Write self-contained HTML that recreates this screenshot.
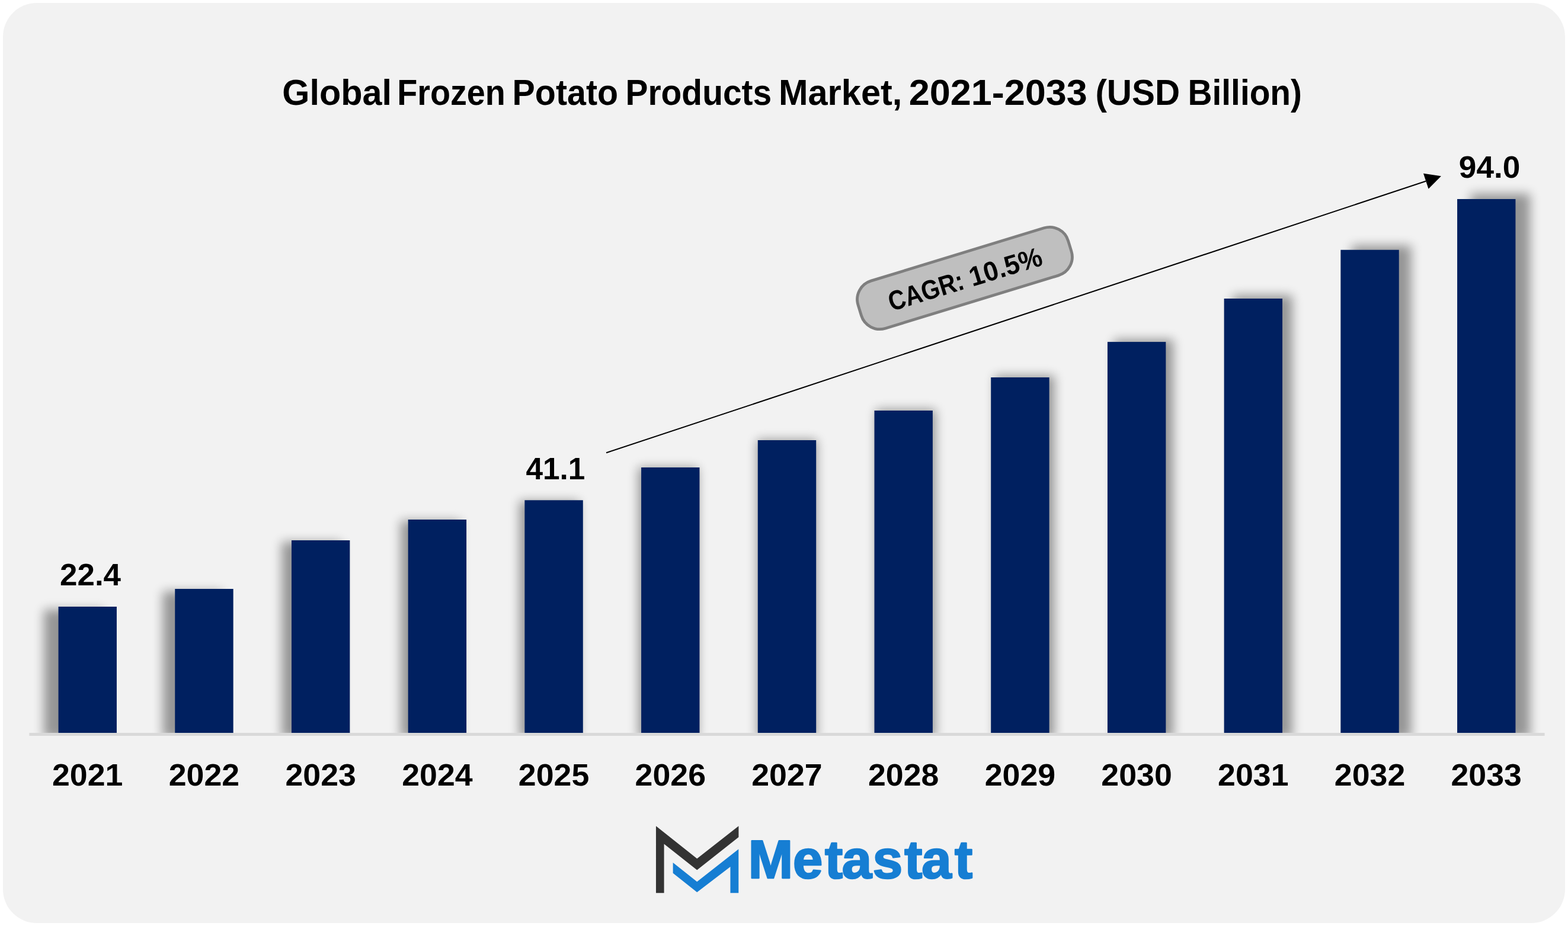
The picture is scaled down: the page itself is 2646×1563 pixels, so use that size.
<!DOCTYPE html>
<html lang="en">
<head>
<meta charset="utf-8">
<title>Global Frozen Potato Products Market, 2021-2033 (USD Billion)</title>
<style>
html,body{margin:0;padding:0;background:#ffffff;}
body{width:2646px;height:1563px;position:relative;font-family:'Liberation Sans', sans-serif;}
figure{margin:0;padding:0;position:absolute;left:0;top:0;width:2646px;height:1563px;}
svg{display:block;position:absolute;left:0;top:0;}
text{font-family:'Liberation Sans', sans-serif;font-weight:bold;fill:#000;}
</style>
</head>
<body>
<figure>
<svg role="img" aria-label="Global Frozen Potato Products Market bar chart" width="2646" height="1563" viewBox="0 0 2646 1563">
<defs>
<filter id="blur" filterUnits="userSpaceOnUse" x="0" y="200" width="2646" height="1200" color-interpolation-filters="sRGB">
<feGaussianBlur stdDeviation="9"/>
</filter>
<clipPath id="plot"><rect x="0" y="0" width="2646" height="1237.0"/></clipPath>
</defs>
<rect x="5" y="5" width="2636" height="1553" rx="57" ry="57" fill="#f2f2f2"/>
<g clip-path="url(#plot)">
<g filter="url(#blur)" opacity="0.38">
<g transform="translate(1328.00 786.50) scale(1.02) translate(-1328.00 -786.50)" fill="#000">
<rect x="98.55" y="1024.00" width="98.40" height="213.00"/>
<rect x="295.26" y="994.00" width="98.40" height="243.00"/>
<rect x="491.97" y="912.00" width="98.40" height="325.00"/>
<rect x="688.68" y="877.00" width="98.40" height="360.00"/>
<rect x="885.38" y="844.30" width="98.40" height="392.70"/>
<rect x="1082.09" y="789.00" width="98.40" height="448.00"/>
<rect x="1278.80" y="743.00" width="98.40" height="494.00"/>
<rect x="1475.51" y="693.00" width="98.40" height="544.00"/>
<rect x="1672.22" y="637.00" width="98.40" height="600.00"/>
<rect x="1868.92" y="577.10" width="98.40" height="659.90"/>
<rect x="2065.63" y="504.00" width="98.40" height="733.00"/>
<rect x="2262.34" y="421.75" width="98.40" height="815.25"/>
<rect x="2459.05" y="336.00" width="98.40" height="901.00"/>
</g>
</g>
</g>
<rect x="49.4" y="1237.0" width="2557.20" height="5" fill="#d9d9d9"/>
<g fill="#002060">
<rect x="98.55" y="1024.00" width="98.40" height="213.00"/>
<rect x="295.26" y="994.00" width="98.40" height="243.00"/>
<rect x="491.97" y="912.00" width="98.40" height="325.00"/>
<rect x="688.68" y="877.00" width="98.40" height="360.00"/>
<rect x="885.38" y="844.30" width="98.40" height="392.70"/>
<rect x="1082.09" y="789.00" width="98.40" height="448.00"/>
<rect x="1278.80" y="743.00" width="98.40" height="494.00"/>
<rect x="1475.51" y="693.00" width="98.40" height="544.00"/>
<rect x="1672.22" y="637.00" width="98.40" height="600.00"/>
<rect x="1868.92" y="577.10" width="98.40" height="659.90"/>
<rect x="2065.63" y="504.00" width="98.40" height="733.00"/>
<rect x="2262.34" y="421.75" width="98.40" height="815.25"/>
<rect x="2459.05" y="336.00" width="98.40" height="901.00"/>
</g>
<text transform="translate(147.75 1325.9) scale(1.0453 1)" text-anchor="middle" font-size="51.4">2021</text>
<text transform="translate(344.46 1325.9) scale(1.0453 1)" text-anchor="middle" font-size="51.4">2022</text>
<text transform="translate(541.17 1325.9) scale(1.0453 1)" text-anchor="middle" font-size="51.4">2023</text>
<text transform="translate(737.88 1325.9) scale(1.0453 1)" text-anchor="middle" font-size="51.4">2024</text>
<text transform="translate(934.58 1325.9) scale(1.0453 1)" text-anchor="middle" font-size="51.4">2025</text>
<text transform="translate(1131.29 1325.9) scale(1.0453 1)" text-anchor="middle" font-size="51.4">2026</text>
<text transform="translate(1328.00 1325.9) scale(1.0453 1)" text-anchor="middle" font-size="51.4">2027</text>
<text transform="translate(1524.71 1325.9) scale(1.0453 1)" text-anchor="middle" font-size="51.4">2028</text>
<text transform="translate(1721.42 1325.9) scale(1.0453 1)" text-anchor="middle" font-size="51.4">2029</text>
<text transform="translate(1918.12 1325.9) scale(1.0453 1)" text-anchor="middle" font-size="51.4">2030</text>
<text transform="translate(2114.83 1325.9) scale(1.0453 1)" text-anchor="middle" font-size="51.4">2031</text>
<text transform="translate(2311.54 1325.9) scale(1.0453 1)" text-anchor="middle" font-size="51.4">2032</text>
<text transform="translate(2508.25 1325.9) scale(1.0453 1)" text-anchor="middle" font-size="51.4">2033</text>
<text transform="translate(101.05 987.9) scale(1.0294 1)" font-size="51.4">22.4</text>
<text transform="translate(887.43 808.8) scale(1.0000 1)" font-size="51.4">41.1</text>
<text transform="translate(2461.84 300.0) scale(1.0341 1)" font-size="51.4">94.0</text>
<g font-size="61.5">
<text transform="translate(476.32 177.0) scale(0.9659 1)">Global</text>
<text transform="translate(670.18 177.0) scale(0.9064 1)">Frozen</text>
<text transform="translate(864.57 177.0) scale(0.9334 1)">Potato</text>
<text transform="translate(1055.40 177.0) scale(0.9263 1)">Products</text>
<text transform="translate(1313.93 177.0) scale(0.9679 1)">Market,</text>
<text transform="translate(1533.80 177.0) scale(1.0239 1)">2021-2033</text>
<text transform="translate(1848.38 177.0) scale(0.9493 1)">(USD</text>
<text transform="translate(2004.51 177.0) scale(0.9240 1)">Billion)</text>
</g>
<line x1="1023.1" y1="764.2" x2="2406.27" y2="305.79" stroke="#000" stroke-width="2.05"/>
<polygon points="2431.90,297.30 2410.57,318.75 2401.98,292.84" fill="#000"/>
<g transform="translate(1628 469.5) rotate(-17.0)">
<rect x="-185.35" y="-41.85" width="370.7" height="83.7" rx="32.6" ry="32.6" fill="#bfbfbf" stroke="#7f7f7f" stroke-width="4.8"/>
<text transform="translate(-134.5 17.4) scale(0.869 1)" font-size="46">CAGR:</text>
<text transform="translate(8.4 17.4) scale(0.967 1)" font-size="46">10.5%</text>
</g>
<polygon points="1106.98,1394.36 1176.23,1449.27 1246.43,1394.36 1246.43,1412.98 1176.23,1468.38 1120.59,1424.44 1120.59,1507.30 1106.98,1507.30" fill="#333333"/>
<polygon points="1135.64,1455.96 1176.23,1488.19 1246.31,1433.28 1246.31,1507.30 1232.46,1507.30 1232.46,1463.12 1176.23,1506.10 1135.64,1473.87" fill="#167ed3"/>
<text x="1262.77 1337.91 1391.92 1420.70 1472.71 1526.17 1555.30 1610.92" y="1482.1" font-size="90.5" style="fill:#167ed3;stroke:#167ed3;stroke-width:2.6px;stroke-linejoin:round">Metastat</text>
</svg>
</figure>
</body>
</html>
